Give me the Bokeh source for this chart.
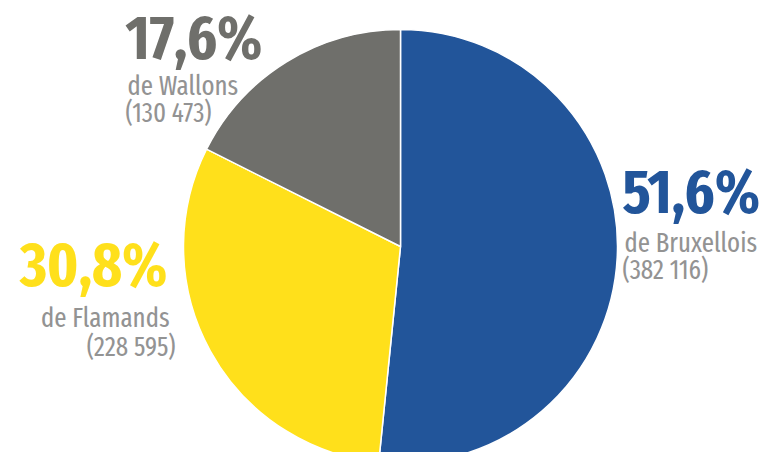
import math
from bokeh.plotting import figure
from bokeh.models import Range1d, ColumnDataSource
from bokeh.core.properties import value
from bokeh.embed import file_html
from bokeh.resources import INLINE

# ---- data ----
groups = ["Bruxellois", "Flamands", "Wallons"]
shares = [51.6, 30.8, 17.6]
counts = ["382 116", "228 595", "130 473"]
pct_labels = ["51,6%", "30,8%", "17,6%"]
colors = ["#22559a", "#ffe01b", "#6f6f6b"]

W, H = 760, 452
FONT = "Fira Sans Extra Condensed"
BIG, SMALL = 62, 27

p = figure(width=W, height=H, output_backend="svg", toolbar_location=None,
           x_range=Range1d(0, W), y_range=Range1d(0, H), min_border=0)
p.axis.visible = False
p.grid.visible = False
p.outline_line_color = None
p.background_fill_color = "white"
p.border_fill_color = "white"

def Y(py, size=0, k=0.33):
    # screen y (from top) of the baseline -> data y; compensates the renderer's baseline offset
    return H - py + k * size

# pie (clockwise from top)
cx, cy, r = 400, Y(246), 217
total = sum(shares)
starts, ends = [], []
a = math.pi / 2
for s in shares:
    e = a - s / total * 2 * math.pi
    starts.append(e)
    ends.append(a)
    a = e
src = ColumnDataSource(dict(start=starts, end=ends, color=colors))
p.wedge(x=cx, y=cy, radius=r, start_angle="start", end_angle="end",
        fill_color="color", line_color="white", line_width=1.5, source=src)

label_gray = "#939393"
# x anchor, align, baselines for pct / name / count, count x offset
layout = {
    "Bruxellois": (622, "left", 213, 251, 278, 0),
    "Flamands": (167, "right", 286, 326, 355, 8),
    "Wallons": (125, "left", 59, 94, 121, 0),
}
for g, pct, cnt, col in zip(groups, pct_labels, counts, colors):
    x, al, y1, y2, y3, dx = layout[g]
    p.text(x=[x], y=[Y(y1, BIG, 0.35)], text=[pct], text_align=al, text_baseline="alphabetic",
           text_font=value(FONT), text_font_style="bold", text_font_size=f"{BIG}px",
           text_color=col)
    p.text(x=[x + 2], y=[Y(y2, SMALL)], text=["de " + g], text_align=al, text_baseline="alphabetic",
           text_font=value(FONT), text_font_size=f"{SMALL}px", text_color=label_gray)
    p.text(x=[x + dx], y=[Y(y3, SMALL)], text=["(" + cnt + ")"],
           text_align=al, text_baseline="alphabetic",
           text_font=value(FONT), text_font_size=f"{SMALL}px", text_color=label_gray)

open("out.html", "w").write(file_html(p, INLINE))
